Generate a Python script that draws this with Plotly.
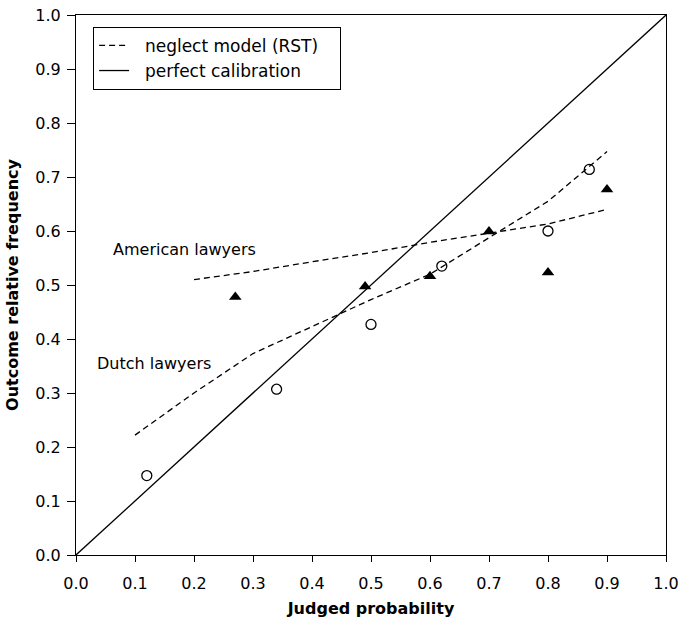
import plotly.graph_objects as go

# Observed calibration points
dutch_x = [0.12, 0.34, 0.50, 0.62, 0.80, 0.87]
dutch_y = [0.147, 0.307, 0.427, 0.535, 0.60, 0.714]
american_x = [0.27, 0.49, 0.60, 0.70, 0.80, 0.90]
american_y = [0.478, 0.497, 0.516, 0.599, 0.523, 0.677]

# Neglect model (RST) curves
rst_dutch_x = [0.10, 0.20, 0.30, 0.40, 0.50, 0.60, 0.70, 0.80, 0.90]
rst_dutch_y = [0.222, 0.30, 0.373, 0.423, 0.473, 0.52, 0.588, 0.655, 0.747]
rst_american_x = [0.20, 0.30, 0.40, 0.50, 0.60, 0.70, 0.80, 0.90]
rst_american_y = [0.51, 0.525, 0.543, 0.56, 0.579, 0.596, 0.613, 0.64]

# Perfect calibration diagonal
diag_x = [0.0, 1.0]
diag_y = [0.0, 1.0]

tick_vals = [0.0, 0.1, 0.2, 0.3, 0.4, 0.5, 0.6, 0.7, 0.8, 0.9, 1.0]

FONT = "DejaVu Sans, Liberation Sans, Arial, sans-serif"
NB = "\u00a0"

fig = go.Figure()

fig.add_trace(go.Scatter(
    x=rst_american_x, y=rst_american_y, mode="lines",
    line=dict(color="black", width=1.3, dash="6px,4px"),
    name=NB * 2 + "neglect model (RST)" + NB * 3, showlegend=True,
))
fig.add_trace(go.Scatter(
    x=rst_dutch_x, y=rst_dutch_y, mode="lines",
    line=dict(color="black", width=1.3, dash="6px,4px"),
    showlegend=False,
))
fig.add_trace(go.Scatter(
    x=diag_x, y=diag_y, mode="lines",
    line=dict(color="black", width=1.3),
    name=NB * 2 + "perfect calibration", showlegend=True,
))
fig.add_trace(go.Scatter(
    x=dutch_x, y=dutch_y, mode="markers",
    marker=dict(symbol="circle-open", size=10, color="black", line=dict(width=1.3)),
    showlegend=False,
))
fig.add_trace(go.Scatter(
    x=american_x, y=american_y, mode="markers",
    marker=dict(symbol="triangle-up", size=11, color="black"),
    showlegend=False,
))

fig.add_annotation(x=0.06, y=0.565, text="American lawyers", showarrow=False,
                   xanchor="left", yanchor="middle",
                   font=dict(family=FONT, size=16, color="black"))
fig.add_annotation(x=0.032, y=0.354, text="Dutch lawyers", showarrow=False,
                   xanchor="left", yanchor="middle",
                   font=dict(family=FONT, size=16, color="black"))

axis_common = dict(
    range=[0, 1], tickvals=tick_vals, tickformat=".1f",
    showline=True, linecolor="black", linewidth=1.2, mirror=True,
    ticks="outside", tickcolor="black", tickwidth=1,
    showgrid=False, zeroline=False, automargin=False,
    tickfont=dict(family=FONT, size=16, color="black"),
)

fig.update_xaxes(**axis_common, ticklen=6, ticklabelstandoff=8,
                 title=dict(text="<b>Judged probability</b>",
                            font=dict(family=FONT, size=16, color="black"),
                            standoff=10))
fig.update_yaxes(**axis_common, ticklen=8, ticklabelstandoff=3,
                 title=dict(text="<b>Outcome relative frequency</b>",
                            font=dict(family=FONT, size=16, color="black"),
                            standoff=12))

fig.update_layout(
    width=683, height=626,
    margin=dict(l=76, r=17, t=15, b=71),
    plot_bgcolor="white", paper_bgcolor="white",
    legend=dict(
        x=0.029, y=0.978, xanchor="left", yanchor="top",
        bordercolor="black", borderwidth=1, bgcolor="white",
        font=dict(family=FONT, size=17, color="black"),
        itemwidth=30, tracegroupgap=0,
    ),
)

fig.write_html("out.html")
